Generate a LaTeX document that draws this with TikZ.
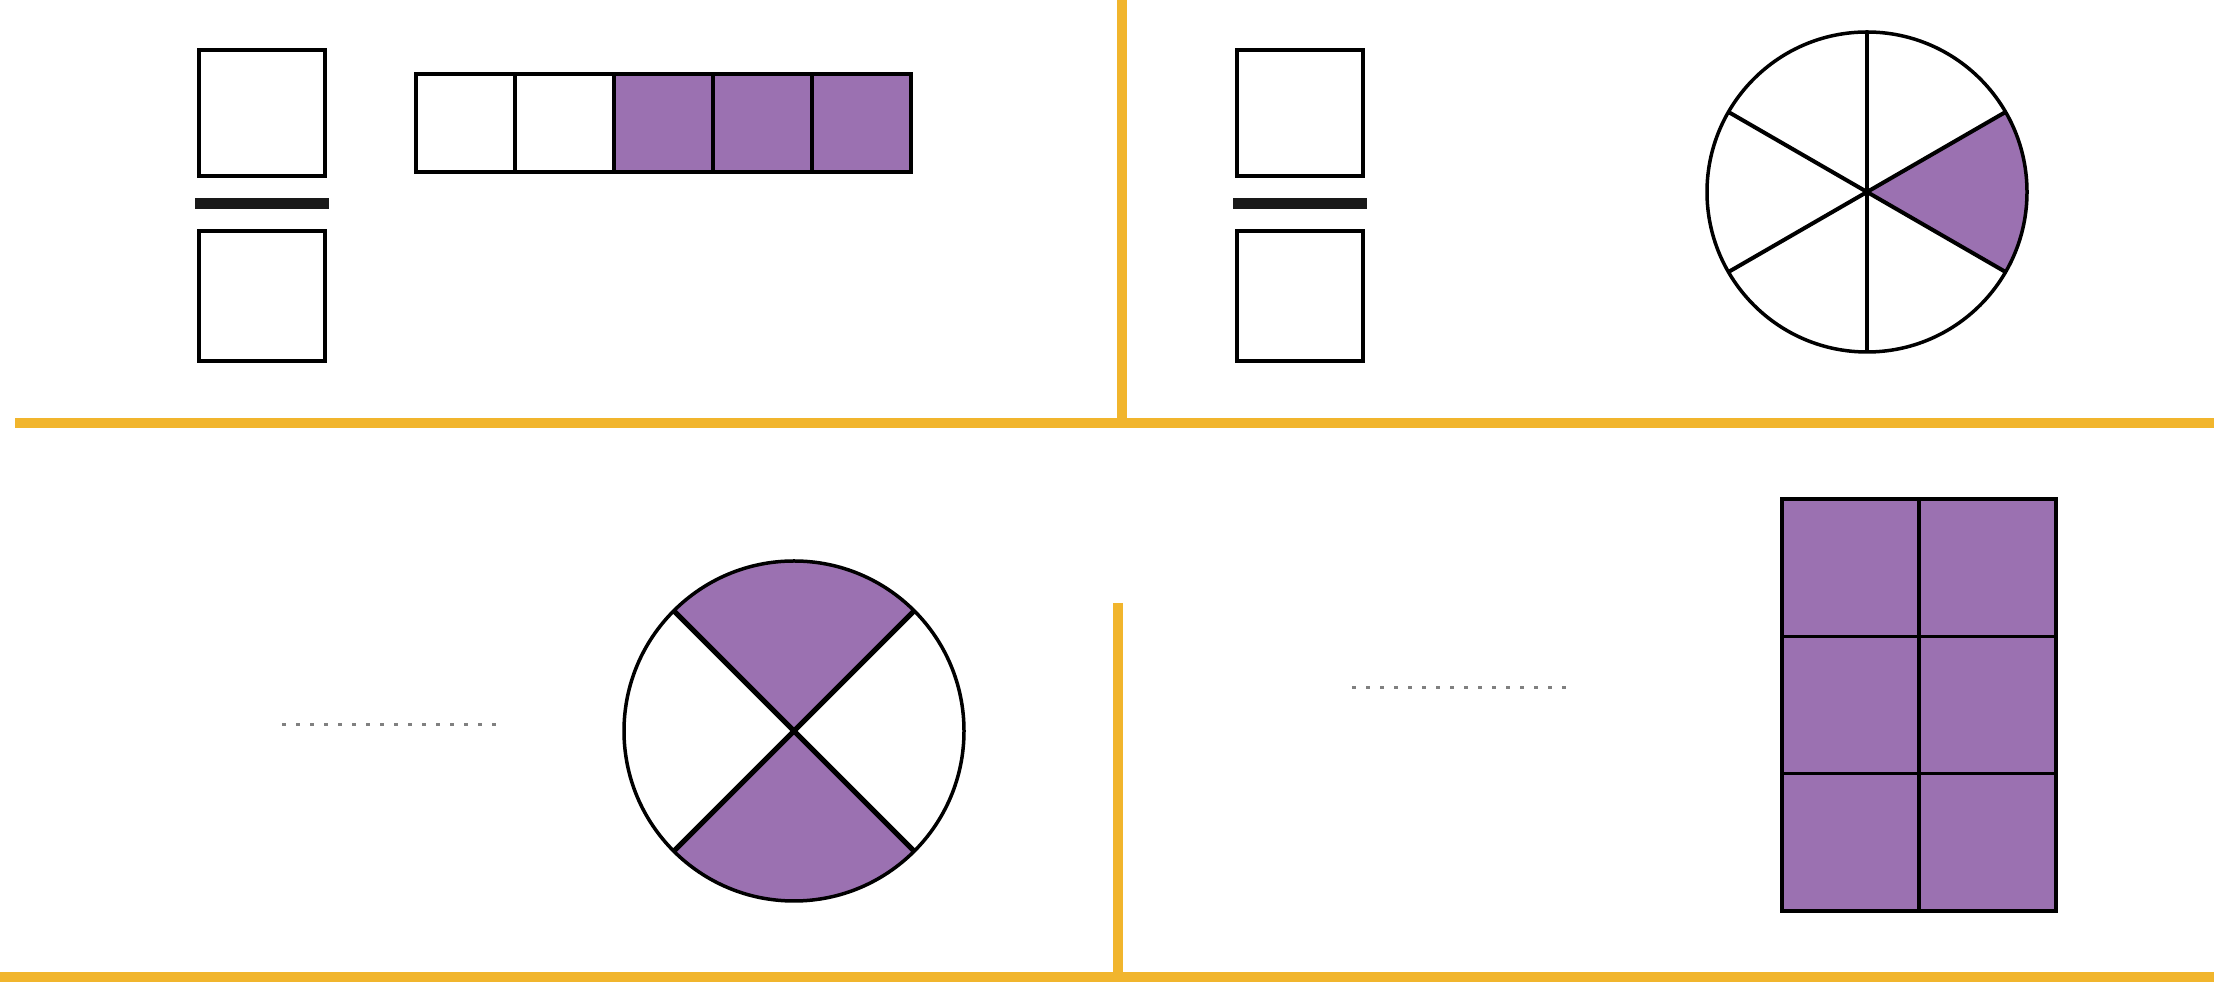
\documentclass[tikz,border=0pt]{standalone}
\usepackage{tikz}
\usetikzlibrary{positioning}
\definecolor{fracpurple}{RGB}{155,113,177}
\definecolor{rulegold}{RGB}{241,181,45}

\begin{document}
\begin{tikzpicture}[
    x=1pt, y=1pt,
    numbox/.style={
      rectangle,
      draw,
      line width=3.5pt,
      minimum width=126pt,
      minimum height=126pt,
      inner sep=0pt,
      outer sep=0pt
    },
    fracbar/.style={rectangle, fill=black!90, minimum width=134pt, minimum height=11pt, inner sep=0pt, outer sep=0pt},
    cell/.style={rectangle, draw, line width=3.5pt, minimum width=99pt, minimum height=98pt, inner sep=0pt, outer sep=0pt},
    shaded/.style={fill=fracpurple},
    pie/.style={circle, draw, line width=3.5pt, inner sep=0pt, outer sep=0pt},
    spoke/.style={draw, line width=4pt},
    blank/.style={draw=gray, line width=3pt, dash pattern=on 4pt off 10pt},
    rule/.style={draw=rulegold, line width=10pt},
]
    \useasboundingbox (0,0) rectangle (2214,984);

    % frame
    \draw [rule] (1122,984) -- (1122,561);
    \draw [rule] (15,561) -- (2214,561);
    \draw [rule] (1118,381) -- (1118,7);
    \draw [rule] (0,7) -- (2214,7);

    % top left: empty fraction and strip
    \node [numbox] (numA) at (262,871) {};
    \node [fracbar, below=22pt of numA] (barA) {};
    \node [numbox, below=22pt of barA, minimum height=130pt] (denA) {};
    \foreach \i in {0,...,4} {
      \ifnum\i>1
        \node [cell, shaded] (strip\i) at (465.5+99*\i,861) {};
      \else
        \node [cell] (strip\i) at (465.5+99*\i,861) {};
      \fi
    }

    % top right: empty fraction and circle in sixths
    \node [numbox] (numB) at (1300,871) {};
    \node [fracbar, below=22pt of numB] (barB) {};
    \node [numbox, below=22pt of barB, minimum height=130pt] (denB) {};
    \coordinate (pieBc) at (1867,792);
    \fill [fracpurple] (pieBc) -- ++(-30:160) arc[start angle=-30, end angle=30, radius=160] -- cycle;
    \node [pie, minimum size=320pt] (pieB) at (pieBc) {};
    \foreach \a/\b in {30/210, 90/270, 150/330}
      \path [spoke] (pieB.\a) -- (pieB.\b);

    % bottom left: blank and circle in quarters
    \draw [blank] (282,259) -- (499,259);
    \coordinate (pieCc) at (794,253);
    \fill [fracpurple] (pieCc) -- ++(45:170) arc[start angle=45, end angle=135, radius=170] -- cycle;
    \fill [fracpurple] (pieCc) -- ++(225:170) arc[start angle=225, end angle=315, radius=170] -- cycle;
    \node [pie, minimum size=340pt] (pieC) at (pieCc) {};
    \path [spoke, line width=5pt] (pieC.45) -- (pieC.225);
    \path [spoke, line width=5pt] (pieC.135) -- (pieC.315);

    % bottom right: blank and grid
    \draw [blank] (1352,296) -- (1569,296);
    \foreach \r in {0,1,2}
      \foreach \c in {0,1}
        \node [cell, shaded, minimum width=137pt, minimum height=137.3pt] (grid\r\c) at (1850.5+137*\c,141.7+137.3*\r) {};

\end{tikzpicture}
\end{document}
